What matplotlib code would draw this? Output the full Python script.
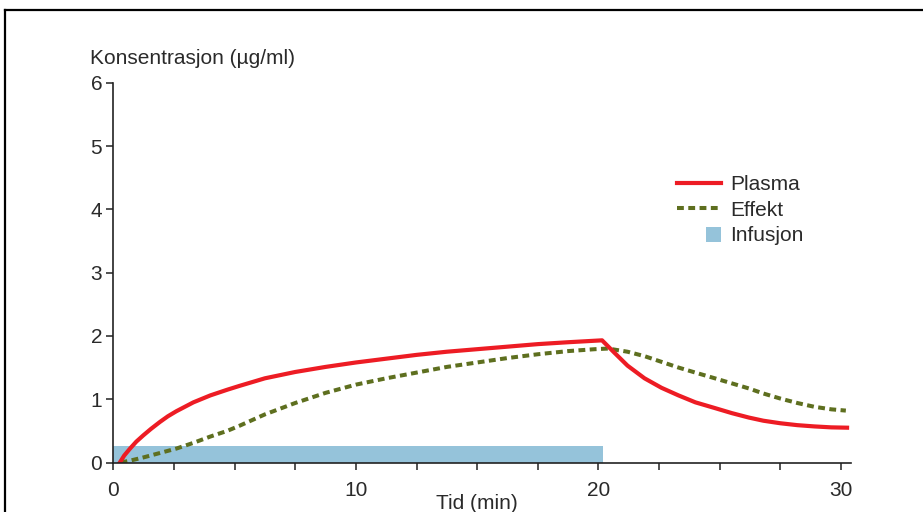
import matplotlib
matplotlib.use("Agg")
import matplotlib.pyplot as plt
from matplotlib.patches import Rectangle
from matplotlib.lines import Line2D
from matplotlib.legend_handler import HandlerPatch
from matplotlib.ticker import MultipleLocator, FixedLocator

# ---- data ----
plasma_t = [0.27, 0.45, 0.69, 0.95, 1.24, 1.55, 1.92, 2.25, 2.6, 3.3, 4.0, 4.7, 5.2, 6.25,
            7.5, 8.75, 10, 11.25, 12.5, 13.75, 15, 16.25, 17.5, 18.75, 20.15,
            20.67, 21.2, 21.9, 22.6, 23.3, 24.0, 24.8, 25.5, 26.2, 26.8, 27.5, 28.2,
            28.9, 29.6, 30.25]
plasma_c = [0.0, 0.11, 0.22, 0.33, 0.43, 0.53, 0.64, 0.73, 0.81, 0.95, 1.06, 1.15, 1.21, 1.33,
            1.43, 1.51, 1.58, 1.64, 1.70, 1.75, 1.79, 1.83, 1.87, 1.90, 1.93,
            1.73, 1.53, 1.33, 1.18, 1.06, 0.95, 0.86, 0.78, 0.71, 0.66, 0.62, 0.59,
            0.57, 0.555, 0.55]
effekt_t = [0.3, 0.7, 1.24, 1.92, 2.6, 3.3, 4.0, 4.7, 5.2, 6.25, 7.5, 8.75, 10,
            11.25, 12.5, 13.75, 15, 16.25, 17.5, 18.75, 19.85, 20.4, 21.2, 21.9,
            22.6, 23.3, 24.0, 24.8, 25.5, 26.2, 26.8, 27.5, 28.2, 28.9, 29.6, 30.2]
effekt_c = [0.0, 0.03, 0.08, 0.15, 0.22, 0.31, 0.41, 0.50, 0.58, 0.76, 0.94, 1.10, 1.23,
            1.33, 1.42, 1.51, 1.58, 1.65, 1.71, 1.76, 1.79, 1.80, 1.75, 1.68,
            1.59, 1.50, 1.42, 1.33, 1.25, 1.17, 1.09, 1.01, 0.94, 0.88, 0.84, 0.82]
infusion_start = 0.0
infusion_end = 20.2
infusion_level = 0.26

x_major = [0, 10, 20, 30]
y_ticks = [0, 1, 2, 3, 4, 5, 6]
labels = ["Plasma", "Effekt", "Infusjon"]
ylabel = "Konsentrasjon (µg/ml)"
xlabel = "Tid (min)"

RED = "#ED1C24"
GREEN = "#5E6F1F"
BLUE = "#95C3DA"
TXT = "#2a2a2a"

plt.rcParams['font.family'] = ['Liberation Sans', 'DejaVu Sans']

fig = plt.figure(figsize=(9.23, 5.12), dpi=100)
ax = fig.add_axes([113.3 / 923, 49.5 / 512, (850.7 - 113.3) / 923, (462.5 - 82.7) / 512])

ax.set_xlim(0, 30.4)
ax.set_ylim(0, 6)

DASH = (0, (1.7, 1.1))

ax.add_patch(Rectangle((infusion_start, 0), infusion_end - infusion_start, infusion_level,
                       facecolor=BLUE, edgecolor='none', zorder=1))
ax.plot(plasma_t, plasma_c, color=RED, lw=3.0, solid_joinstyle='round', zorder=3)
ax.plot(effekt_t, effekt_c, color=GREEN, lw=2.9, linestyle=DASH, zorder=2)

for s in ['top', 'right']:
    ax.spines[s].set_visible(False)
for s in ['left', 'bottom']:
    ax.spines[s].set_linewidth(1.2)
    ax.spines[s].set_color('#222222')
    ax.spines[s].set_zorder(4)

ax.xaxis.set_major_locator(FixedLocator(x_major))
ax.xaxis.set_minor_locator(MultipleLocator(2.5))
ax.yaxis.set_major_locator(FixedLocator(y_ticks))
ax.tick_params(axis='both', which='both', direction='out', length=5, width=1.1,
               color='#222222', labelsize=15, labelcolor=TXT)
ax.tick_params(axis='x', which='major', pad=8)
ax.tick_params(axis='y', which='major', pad=3)

ax.set_xlabel(xlabel, fontsize=15, color=TXT)
ax.xaxis.set_label_coords(15 / 30.4, -0.083)
ax.xaxis.label.set_va('top')

fig.text(90 / 923, 1 - 58 / 512, ylabel, fontsize=15, color=TXT, ha='left', va='center')


class SquareHandler(HandlerPatch):
    def create_artists(self, legend, orig_handle, xdescent, ydescent, width, height,
                       fontsize, trans):
        side = 15 / 1.389
        r = Rectangle((width - xdescent - side, -ydescent + height / 2 - side / 2), side, side,
                      facecolor=orig_handle.get_facecolor(), edgecolor='none', transform=trans)
        return [r]


handles = [Line2D([], [], color=RED, lw=3.0),
           Line2D([], [], color=GREEN, lw=2.9, linestyle=DASH),
           Rectangle((0, 0), 1, 1, facecolor=BLUE, edgecolor='none')]
leg = ax.legend(handles, labels, loc='upper left',
                bbox_to_anchor=((677 - 113.3) / 737.4, (462.5 - 175) / 379.8),
                frameon=False, fontsize=15, handlelength=2.1, handletextpad=0.45,
                labelspacing=0.32, borderpad=0, borderaxespad=0,
                handler_map={Rectangle: SquareHandler()})
for t in leg.get_texts():
    t.set_color(TXT)

# outer frame (top and left edges visible)
fig.add_artist(Line2D([4.5 / 923, 4.5 / 923], [0, 1 - 10 / 512], transform=fig.transFigure,
                      color='black', lw=1.6))
fig.add_artist(Line2D([4.5 / 923, 1.0], [1 - 10 / 512, 1 - 10 / 512], transform=fig.transFigure,
                      color='black', lw=1.6))

fig.savefig("out.png", dpi=100)
